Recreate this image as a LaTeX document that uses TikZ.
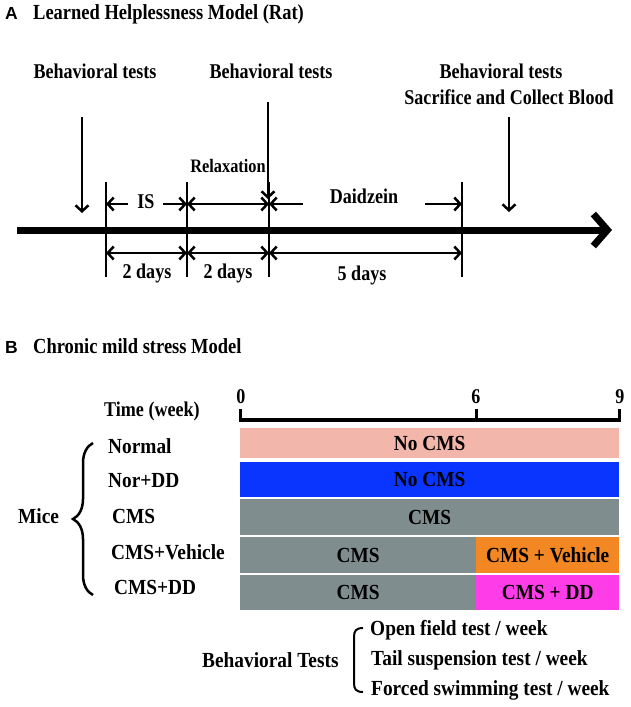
\documentclass[tikz,border=0pt]{standalone}
\usepackage{fontspec}
\setmainfont{Liberation Serif}
\newfontfamily\fA{Liberation Serif}[FakeStretch=0.86]
\newfontfamily\fB{Liberation Serif}[FakeStretch=0.90]
\newfontfamily\sansA{Liberation Sans}
\usetikzlibrary{arrows.meta,decorations.pathreplacing}
\definecolor{salmonb}{RGB}{243,182,170}
\definecolor{blueb}{RGB}{10,52,255}
\definecolor{grayb}{RGB}{128,141,142}
\definecolor{orangeb}{RGB}{242,135,35}
\definecolor{magb}{RGB}{255,61,232}
\begin{document}
\begin{tikzpicture}[x=1pt,y=-1pt,
  font=\fA\bfseries\fontsize{21}{24}\selectfont,
  >={Straight Barb[length=6pt,width=13pt]},
  lbl/.style={inner sep=0pt, anchor=base},
  lblw/.style={inner sep=0pt, anchor=base west},
  bfont/.style={font=\fB\bfseries\fontsize{21.5}{24}\selectfont},
  panel/.style={inner sep=0pt, anchor=base west, font=\sansA\bfseries\fontsize{17.5}{20}\selectfont},
  ttl/.style={inner sep=0pt, anchor=base west, font=\fA\bfseries\fontsize{21.5}{24}\selectfont},
  thin/.style={line width=2.5pt},
  dimline/.style={line width=2.5pt},
  barbox/.style={inner sep=0pt, minimum height=#1, anchor=west},
  barbox/.default=36pt]
\useasboundingbox (0,0) rectangle (630,707);
% ---------------- Panel A
\node[panel] (la) at (5,19) {A};
\node[ttl] (ta) at (33,19) {Learned Helplessness Model (Rat)};
\node[lbl] (bt1) at (95,78) {Behavioral tests};
\node[lbl] (bt2) at (271,78) {Behavioral tests};
\node[lbl] (bt3) at (501,78) {Behavioral tests};
\node[lbl] (sac) at (509,104) {Sacrifice and Collect Blood};
\node[lbl, font=\fA\bfseries\fontsize{19}{22}\selectfont] (rel) at (228,172) {Relaxation};
\node[lbl] (is) at (146,208) {IS};
\node[lbl] (dai) at (364,203) {Daidzein};
\node[lbl] (d1) at (147,278) {2 days};
\node[lbl] (d2) at (228,278) {2 days};
\node[lbl] (d3) at (362,280) {5 days};
% coordinates
\coordinate (a1s) at (82,117);  \coordinate (a1e) at (82,213);
\coordinate (a2s) at (268,102); \coordinate (a2e) at (268,199);
\coordinate (a3s) at (509,117); \coordinate (a3e) at (509,212);
\foreach \n/\x in {1/106,2/187,3/269,4/462}{
  \coordinate (v\n t) at (\x,182); \coordinate (v\n b) at (\x,277);
  \coordinate (u\n) at (\x,204); \coordinate (l\n) at (\x,253);}
\coordinate (ax0) at (17,230); \coordinate (ax1) at (612,230);
\coordinate (isl) at (128,204); \coordinate (isr) at (163,204);
\coordinate (dl) at (303,204); \coordinate (dr) at (425,204);
% axis
\draw[line width=7pt, -{Straight Barb[length=14pt,width=32pt]}] (ax0) -- (ax1);
% verticals
\foreach \n in {1,2,3,4}{\draw[thin] (v\n t) -- (v\n b);}
% down arrows
\draw[thin,->] (a1s) -- (a1e);
\draw[thin,->] (a2s) -- (a2e);
\draw[thin,->] (a3s) -- (a3e);
% upper dims
\draw[dimline,->] (isl) -- (u1);
\draw[dimline,->] (isr) -- (u2);
\draw[dimline,<->] (u2) -- (u3);
\draw[dimline,->] (dl) -- (u3);
\draw[dimline,->] (dr) -- (u4);
% lower dims
\draw[dimline,<->] (l1) -- (l2);
\draw[dimline,<->] (l2) -- (l3);
\draw[dimline,<->] (l3) -- (l4);
% ---------------- Panel B
\node[panel] (lb) at (5,353) {B};
\node[ttl] (tb) at (33,353) {Chronic mild stress Model};
\node[lblw] (time) at (104,416) {Time (week)};
\node[lbl] (w0) at (241,403) {0};
\node[lbl] (w6) at (476,403) {6};
\node[lbl] (w9) at (620,403) {9};
\coordinate (x0) at (240,420); \coordinate (x6) at (476,420); \coordinate (x9) at (619,420);
\draw[line width=4pt] ([xshift=-1.5pt]x0) -- ([xshift=1.5pt]x9);
\draw[line width=3pt] (x0) -- ++(0,-11);
\draw[line width=3pt] (x6) -- ++(0,-11);
\draw[line width=3pt] (x9) -- ++(0,-11);
% bars
\begin{scope}[every node/.append style={bfont}]
\node[barbox=30pt, fill=salmonb, minimum width=379pt] (b1) at (240,443) {};
\node[inner sep=0pt] (b1t) at (b1.center) {No CMS};
\node[barbox=35pt, fill=blueb, minimum width=379pt] (b2) at (240,479.5) {};
\node[inner sep=0pt] (b2t) at (b2.center) {No CMS};
\node[barbox=36pt, fill=grayb, minimum width=379pt] (b3) at (240,517) {};
\node[inner sep=0pt] (b3t) at (b3.center) {CMS};
\node[barbox=36pt, fill=grayb, minimum width=236pt] (b4a) at (240,555) {};
\node[inner sep=0pt] (b4at) at (b4a.center) {CMS};
\node[barbox=36pt, fill=orangeb, minimum width=143pt] (b4b) at (476,555) {};
\node[inner sep=0pt] (b4bt) at (b4b.center) {CMS + Vehicle};
\node[barbox=35pt, fill=grayb, minimum width=236pt] (b5a) at (240,592.5) {};
\node[inner sep=0pt] (b5at) at (b5a.center) {CMS};
\node[barbox=35pt, fill=magb, minimum width=143pt] (b5b) at (476,592.5) {};
\node[inner sep=0pt] (b5bt) at (b5b.center) {CMS + DD};
% row labels
\node[lblw] (r1) at (108,453) {Normal};
\node[lblw] (r2) at (108,487) {Nor+DD};
\node[lblw] (r3) at (112,523) {CMS};
\node[lblw] (r4) at (111,559) {CMS+Vehicle};
\node[lblw] (r5) at (114,594) {CMS+DD};
\node[lblw] (mice) at (18,523) {Mice};
\node[lblw] (bt) at (202,667) {Behavioral Tests};
\node[lblw] (o1) at (370,635) {Open field test / week};
\node[lblw] (o2) at (371,665) {Tail suspension test / week};
\node[lblw] (o3) at (371,695) {Forced swimming test / week};
\end{scope}
\coordinate (brb) at (93,595); \coordinate (brt) at (93,443);
\draw[line width=2.5pt, decorate, decoration={brace, amplitude=20pt}] (brb) -- (brt);
\coordinate (kt) at (363,628); \coordinate (kb) at (363,692);
\draw[line width=2pt] (kt) .. controls (356,628) and (354,631) .. (354,637) -- (354,683) .. controls (354,689) and (356,692) .. (kb);
\end{tikzpicture}
\end{document}
